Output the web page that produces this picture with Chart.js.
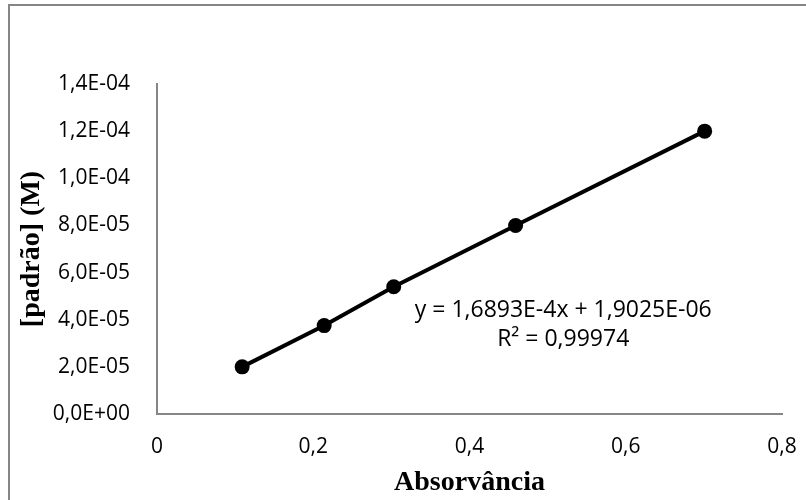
<!DOCTYPE html>
<html>
<head>
<meta charset="utf-8">
<script src="https://cdn.jsdelivr.net/npm/chart.js@4/dist/chart.umd.min.js"></script>
<style>
  html, body { margin: 0; padding: 0; background: #fff; }
  #caixa { width: 806px; height: 500px; position: relative; }
</style>
</head>
<body>
<div id="caixa"><canvas id="grafico" width="806" height="500"></canvas></div>
<script>
// dados
const absorvancia = [0.109, 0.214, 0.303, 0.459, 0.701];
const padrao = [2.0e-5, 3.75e-5, 5.4e-5, 8.0e-5, 1.2e-4];
const ticksX = [0, 0.2, 0.4, 0.6, 0.8];
const ticksY = [0, 2e-5, 4e-5, 6e-5, 8e-5, 1e-4, 1.2e-4, 1.4e-4];
const equacao = ['y = 1,6893E-4x + 1,9025E-06', 'R² = 0,99974'];

// onde fica o texto da linha de tendência (em unidades dos eixos)
const posEquacao = { x: 0.52, y: 4.4e-5 };

const cinza = '#868686';
const fonteTicks = { family: 'Open Sans', size: 21 };
const fonteTitulo = { family: 'Liberation Serif', size: 28, weight: 'bold' };

function formatoCientifico(v) {
    if (Math.abs(v) < 1e-12) return '0,0E+00';
    let [m, e] = v.toExponential(1).split('e');
    let n = parseInt(e);
    let exp = (n < 0 ? '-' : '+') + String(Math.abs(n)).padStart(2, '0');
    return m.replace('.', ',') + 'E' + exp;
}

const moldura = {
    id: 'moldura',
    beforeDraw(chart) {
        const ctx = chart.ctx;
        ctx.save();
        ctx.strokeStyle = cinza;
        ctx.lineWidth = 2;
        ctx.strokeRect(9, 5, 820, 520);
        ctx.restore();
    }
};

const textoEquacao = {
    id: 'textoEquacao',
    afterDatasetsDraw(chart) {
        const ctx = chart.ctx;
        const px = chart.scales.x.getPixelForValue(posEquacao.x);
        const py = chart.scales.y.getPixelForValue(posEquacao.y);
        ctx.save();
        ctx.fillStyle = '#000';
        ctx.font = `23px "${fonteTicks.family}"`;
        ctx.textAlign = 'center';
        ctx.textBaseline = 'middle';
        equacao.forEach((linha, i) => ctx.fillText(linha, px, py + i * 29));
        ctx.restore();
    }
};

new Chart(document.getElementById('grafico'), {
    type: 'scatter',
    data: {
        datasets: [{
            data: absorvancia.map((x, i) => ({ x: x, y: padrao[i] })),
            showLine: true,
            borderColor: '#000',
            borderWidth: 4,
            backgroundColor: '#000',
            pointRadius: 7.5,
            pointBorderWidth: 0,
            pointHoverRadius: 7.5
        }]
    },
    options: {
        responsive: false,
        animation: false,
        layout: { padding: { left: 0, top: 84, right: 24, bottom: 0 } },
        plugins: { legend: { display: false }, tooltip: { enabled: false } },
        scales: {
            x: {
                type: 'linear',
                min: 0, max: 0.8,
                afterBuildTicks: s => { s.ticks = ticksX.map(v => ({ value: v })); },
                afterFit: s => { s.height = 86; s.paddingLeft = 0; s.paddingRight = 0; },
                grid: { display: false, drawTicks: false },
                border: { display: true, color: cinza, width: 2 },
                ticks: {
                    color: '#000', font: fonteTicks, padding: 20, maxRotation: 0,
                    callback: v => String(Math.round(v * 10) / 10).replace('.', ',')
                },
                title: { display: true, text: 'Absorvância', color: '#000', font: fonteTitulo, padding: { top: 0, bottom: 0 } }
            },
            y: {
                type: 'linear',
                min: 0, max: 1.4e-4,
                afterBuildTicks: s => { s.ticks = ticksY.map(v => ({ value: v })); },
                afterFit: s => { s.width = 157; s.paddingTop = 0; s.paddingBottom = 0; },
                grid: { display: false, drawTicks: false },
                border: { display: true, color: cinza, width: 2 },
                ticks: { color: '#000', font: fonteTicks, padding: 27, callback: v => formatoCientifico(v) },
                title: { display: true, text: '[padrão] (M)', color: '#000', font: fonteTitulo, padding: { top: 15, bottom: 0 } }
            }
        }
    },
    plugins: [moldura, textoEquacao]
});
</script>
</body>
</html>
